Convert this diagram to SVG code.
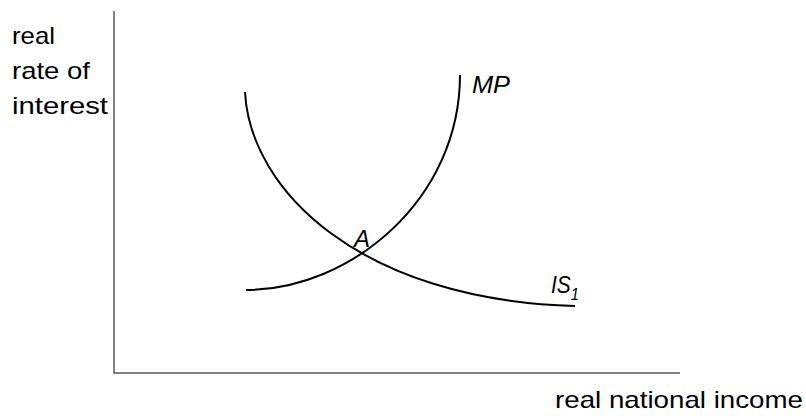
<svg xmlns="http://www.w3.org/2000/svg" width="806" height="416" viewBox="0 0 806 416">
<style>
.lbl{font-family:"Liberation Sans",Arial,sans-serif;font-size:24px;fill:#000}
.it{font-style:italic}
.axis{fill:none;stroke:#595959;stroke-width:1.5}
.curve{fill:none;stroke:#000;stroke-width:2}
</style>
<rect width="806" height="416" fill="#fff"/>
<g id="axes">
<path class="axis" d="M114,11 V373 H680"/>
</g>
<g id="y-label">
<text class="lbl" x="12" y="44" textLength="43" lengthAdjust="spacingAndGlyphs">real</text>
<text class="lbl" x="12" y="79" textLength="78" lengthAdjust="spacingAndGlyphs">rate of</text>
<text class="lbl" x="12" y="114" textLength="96" lengthAdjust="spacingAndGlyphs">interest</text>
</g>
<g id="x-label">
<text class="lbl" x="555" y="408" textLength="248" lengthAdjust="spacingAndGlyphs">real national income</text>
</g>
<g id="connectors">
<path id="MP-curve" class="curve" d="M246,290 C350,290 460,200 460,75"/>
<path id="IS1-curve" class="curve" d="M245,92 C250,190 360,300 575,306"/>
</g>
<g id="MP">
<text class="lbl it" x="472" y="93" textLength="38" lengthAdjust="spacingAndGlyphs">MP</text>
</g>
<g id="IS1">
<text class="lbl it" x="551" y="293" textLength="28" lengthAdjust="spacingAndGlyphs">IS<tspan font-size="17" dy="7">1</tspan></text>
</g>
<g id="A">
<text class="lbl it" x="354" y="247">A</text>
</g>
</svg>
